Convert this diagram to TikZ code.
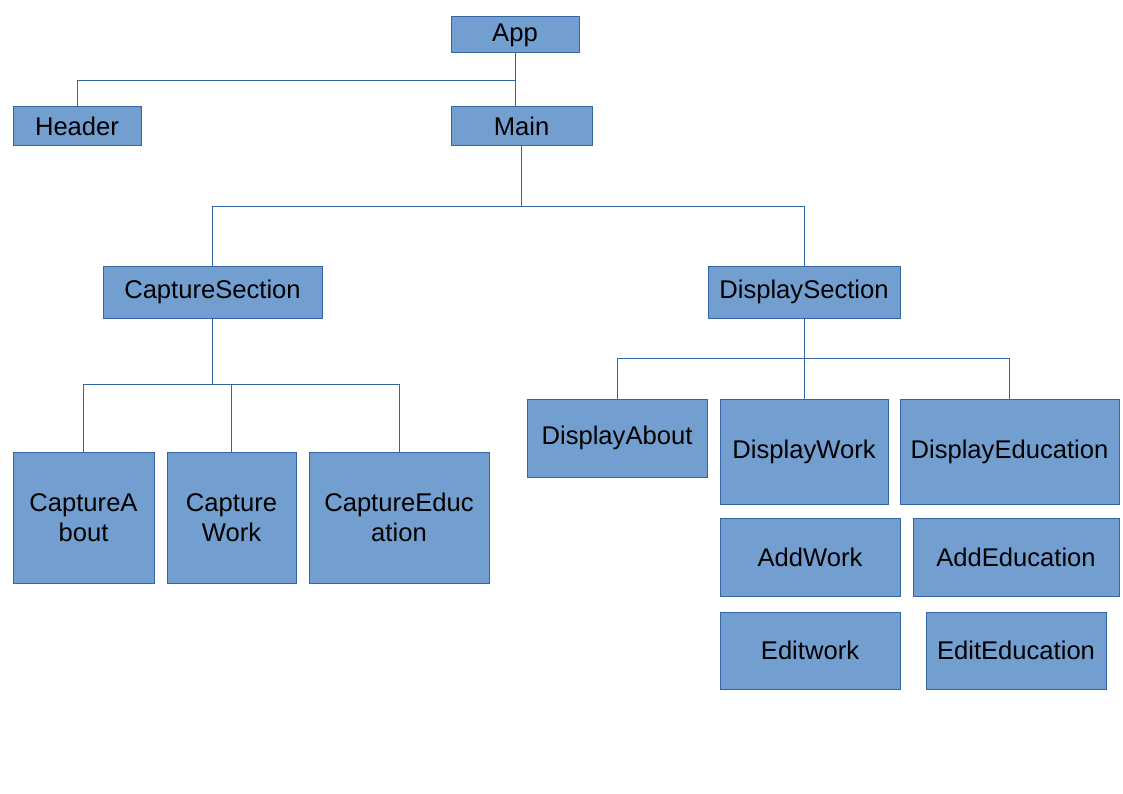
\documentclass[tikz,border=0pt]{standalone}
\usepackage{fontspec}
\setmainfont{Liberation Sans}
\usetikzlibrary{positioning}
\definecolor{boxfill}{HTML}{729FCF}
\definecolor{boxline}{HTML}{3465A4}

\begin{document}
\begin{tikzpicture}[x=1pt,y=-1pt]
\tikzset{
  compbox/.style={rectangle,draw=boxline,fill=boxfill,line width=1pt,inner sep=0pt,align=center,
    font=\fontsize{25.6}{30}\selectfont},
  link/.style={draw=boxline,line width=1pt}
}
\useasboundingbox (0,0) rectangle (1123,794);
\node[compbox,minimum width=128,minimum height=36] (n_app) at (515,35) {App};
\node[compbox,minimum width=128,minimum height=39] (n_header) at (77,126.5) {Header};
\node[compbox,minimum width=141,minimum height=39] (n_main) at (521.5,126.5) {Main};
\node[compbox,minimum width=219,minimum height=52] (n_capsec) at (212.5,292) {CaptureSection};
\node[compbox,minimum width=192,minimum height=52] (n_dispsec) at (804,292) {DisplaySection};
\node[compbox,minimum width=141,minimum height=131] (n_capabout) at (83.5,517.5) {CaptureA\\bout};
\node[compbox,minimum width=129,minimum height=131] (n_capwork) at (231.5,517.5) {Capture\\Work};
\node[compbox,minimum width=180,minimum height=131] (n_capedu) at (399,517.5) {CaptureEduc\\ation};
\node[compbox,minimum width=180,minimum height=78] (n_dispabout) at (617,438) {DisplayAbout};
\node[compbox,minimum width=168,minimum height=105] (n_dispwork) at (804,451.5) {DisplayWork};
\node[compbox,minimum width=219,minimum height=105] (n_dispedu) at (1009.5,451.5) {DisplayEducation};
\node[compbox,minimum width=180,minimum height=78] (n_addwork) at (810,557) {AddWork};
\node[compbox,minimum width=206,minimum height=78] (n_addedu) at (1016,557) {AddEducation};
\node[compbox,minimum width=180,minimum height=77] (n_editwork) at (810,650.5) {Editwork};
\node[compbox,minimum width=180,minimum height=77] (n_editedu) at (1016,650.5) {EditEducation};
% tree links
\draw[link] (n_app.south) -- ++(0,27) coordinate (j_app);
\draw[link] (j_app) -| (n_header.north);
\draw[link] (j_app) -- (j_app |- n_main.north);
\draw[link] (n_main.south) -- ++(0,60) coordinate (j_main);
\draw[link] (j_main) -| (n_capsec.north);
\draw[link] (j_main) -| (n_dispsec.north);
\draw[link] (n_capsec.south) -- ++(0,66) coordinate (j_cap);
\draw[link] (j_cap) -| (n_capabout.north);
\draw[link] (j_cap) -| (n_capwork.north);
\draw[link] (j_cap) -| (n_capedu.north);
\draw[link] (n_dispsec.south) -- ++(0,40) coordinate (j_disp);
\draw[link] (j_disp) -| (n_dispabout.north);
\draw[link] (j_disp) -- (n_dispwork.north);
\draw[link] (j_disp) -| (n_dispedu.north);
\end{tikzpicture}
\end{document}
